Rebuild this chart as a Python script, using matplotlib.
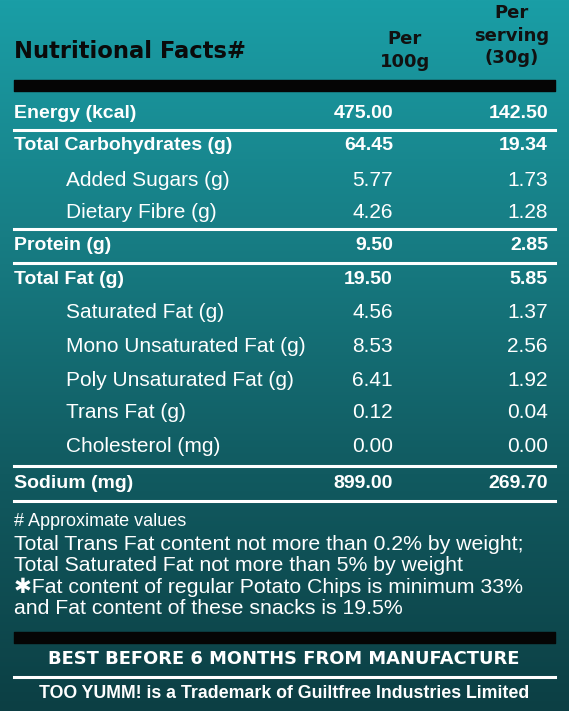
import matplotlib
matplotlib.use("Agg")
import matplotlib.pyplot as plt
import numpy as np
from matplotlib.colors import LinearSegmentedColormap

labels = ["Energy (kcal)", "Total Carbohydrates (g)", "Added Sugars (g)", "Dietary Fibre (g)",
          "Protein (g)", "Total Fat (g)", "Saturated Fat (g)", "Mono Unsaturated Fat (g)",
          "Poly Unsaturated Fat (g)", "Trans Fat (g)", "Cholesterol (mg)", "Sodium (mg)"]
per100 = ["475.00", "64.45", "5.77", "4.26", "9.50", "19.50", "4.56", "8.53", "6.41", "0.12", "0.00", "899.00"]
perserv = ["142.50", "19.34", "1.73", "1.28", "2.85", "5.85", "1.37", "2.56", "1.92", "0.04", "0.00", "269.70"]
indent = [False, False, True, True, False, False, True, True, True, True, True, False]
row_y = [113, 146, 180, 212, 245, 279, 313, 347, 380, 413, 446, 484]
notes = ["Total Trans Fat content not more than 0.2% by weight;",
         "Total Saturated Fat not more than 5% by weight",
         "\u2731Fat content of regular Potato Chips is minimum 33%",
         "and Fat content of these snacks is 19.5%"]

W, H = 569, 711
fig = plt.figure(figsize=(W/100, H/100), dpi=100)
ax = fig.add_axes([0, 0, 1, 1])
ax.set_xlim(0, W); ax.set_ylim(H, 0); ax.axis("off")

cmap = LinearSegmentedColormap.from_list("bg", ["#1a9ea6", "#177d84", "#115a60", "#0c3f44"])
grad = np.linspace(0, 1, 256).reshape(-1, 1)
ax.imshow(grad, cmap=cmap, extent=[0, W, H, 0], aspect="auto", zorder=0)

cond = ["Liberation Sans", "DejaVu Sans"]
bold = ["DejaVu Sans"]

ax.text(14, 52, "Nutritional Facts#", fontsize=16.3, fontweight="bold", family=bold, color="#0a0a0a", va="center")
for y, t in [(39, "Per"), (62, "100g")]:
    ax.text(405, y, t, fontsize=13, fontweight="bold", family=bold, color="#111", ha="center", va="center")
for y, t in [(13, "Per"), (36, "serving"), (58, "(30g)")]:
    ax.text(512, y, t, fontsize=13, fontweight="bold", family=bold, color="#111", ha="center", va="center")

ax.fill_between([14, 555], 80, 91, color="#050505", zorder=2)
for y in [130, 229, 263, 466, 501]:
    ax.plot([14, 555], [y, y], color="white", lw=2.2, zorder=2)

for lab, a, b, ind, y in zip(labels, per100, perserv, indent, row_y):
    fw = "normal" if ind else "bold"
    fs = 15 if ind else 14
    ax.text(66 if ind else 14, y, lab, fontsize=fs, family=cond, fontweight=fw, color="white", va="center")
    ax.text(393, y, a, fontsize=fs, family=cond, fontweight=fw, color="white", va="center", ha="right")
    ax.text(548, y, b, fontsize=fs, family=cond, fontweight=fw, color="white", va="center", ha="right")

ax.text(14, 521, "# Approximate values", fontsize=13, family=cond, color="white", va="center")
for i, t in enumerate(notes):
    ax.text(14, 544 + i * 21.5, t, fontsize=15.3, family=cond, color="white", va="center")

ax.fill_between([14, 555], 632, 643, color="#050505", zorder=2)
ax.text(284, 659, "BEST BEFORE 6 MONTHS FROM MANUFACTURE", fontsize=12.9, fontweight="bold", family=bold,
        color="white", ha="center", va="center")
ax.plot([14, 555], [677, 677], color="white", lw=2.2)
ax.text(284, 693, "TOO YUMM! is a Trademark of Guiltfree Industries Limited", fontsize=12.8, family=cond,
        fontweight="bold", color="white", ha="center", va="center")

fig.savefig("out.png", dpi=100)
